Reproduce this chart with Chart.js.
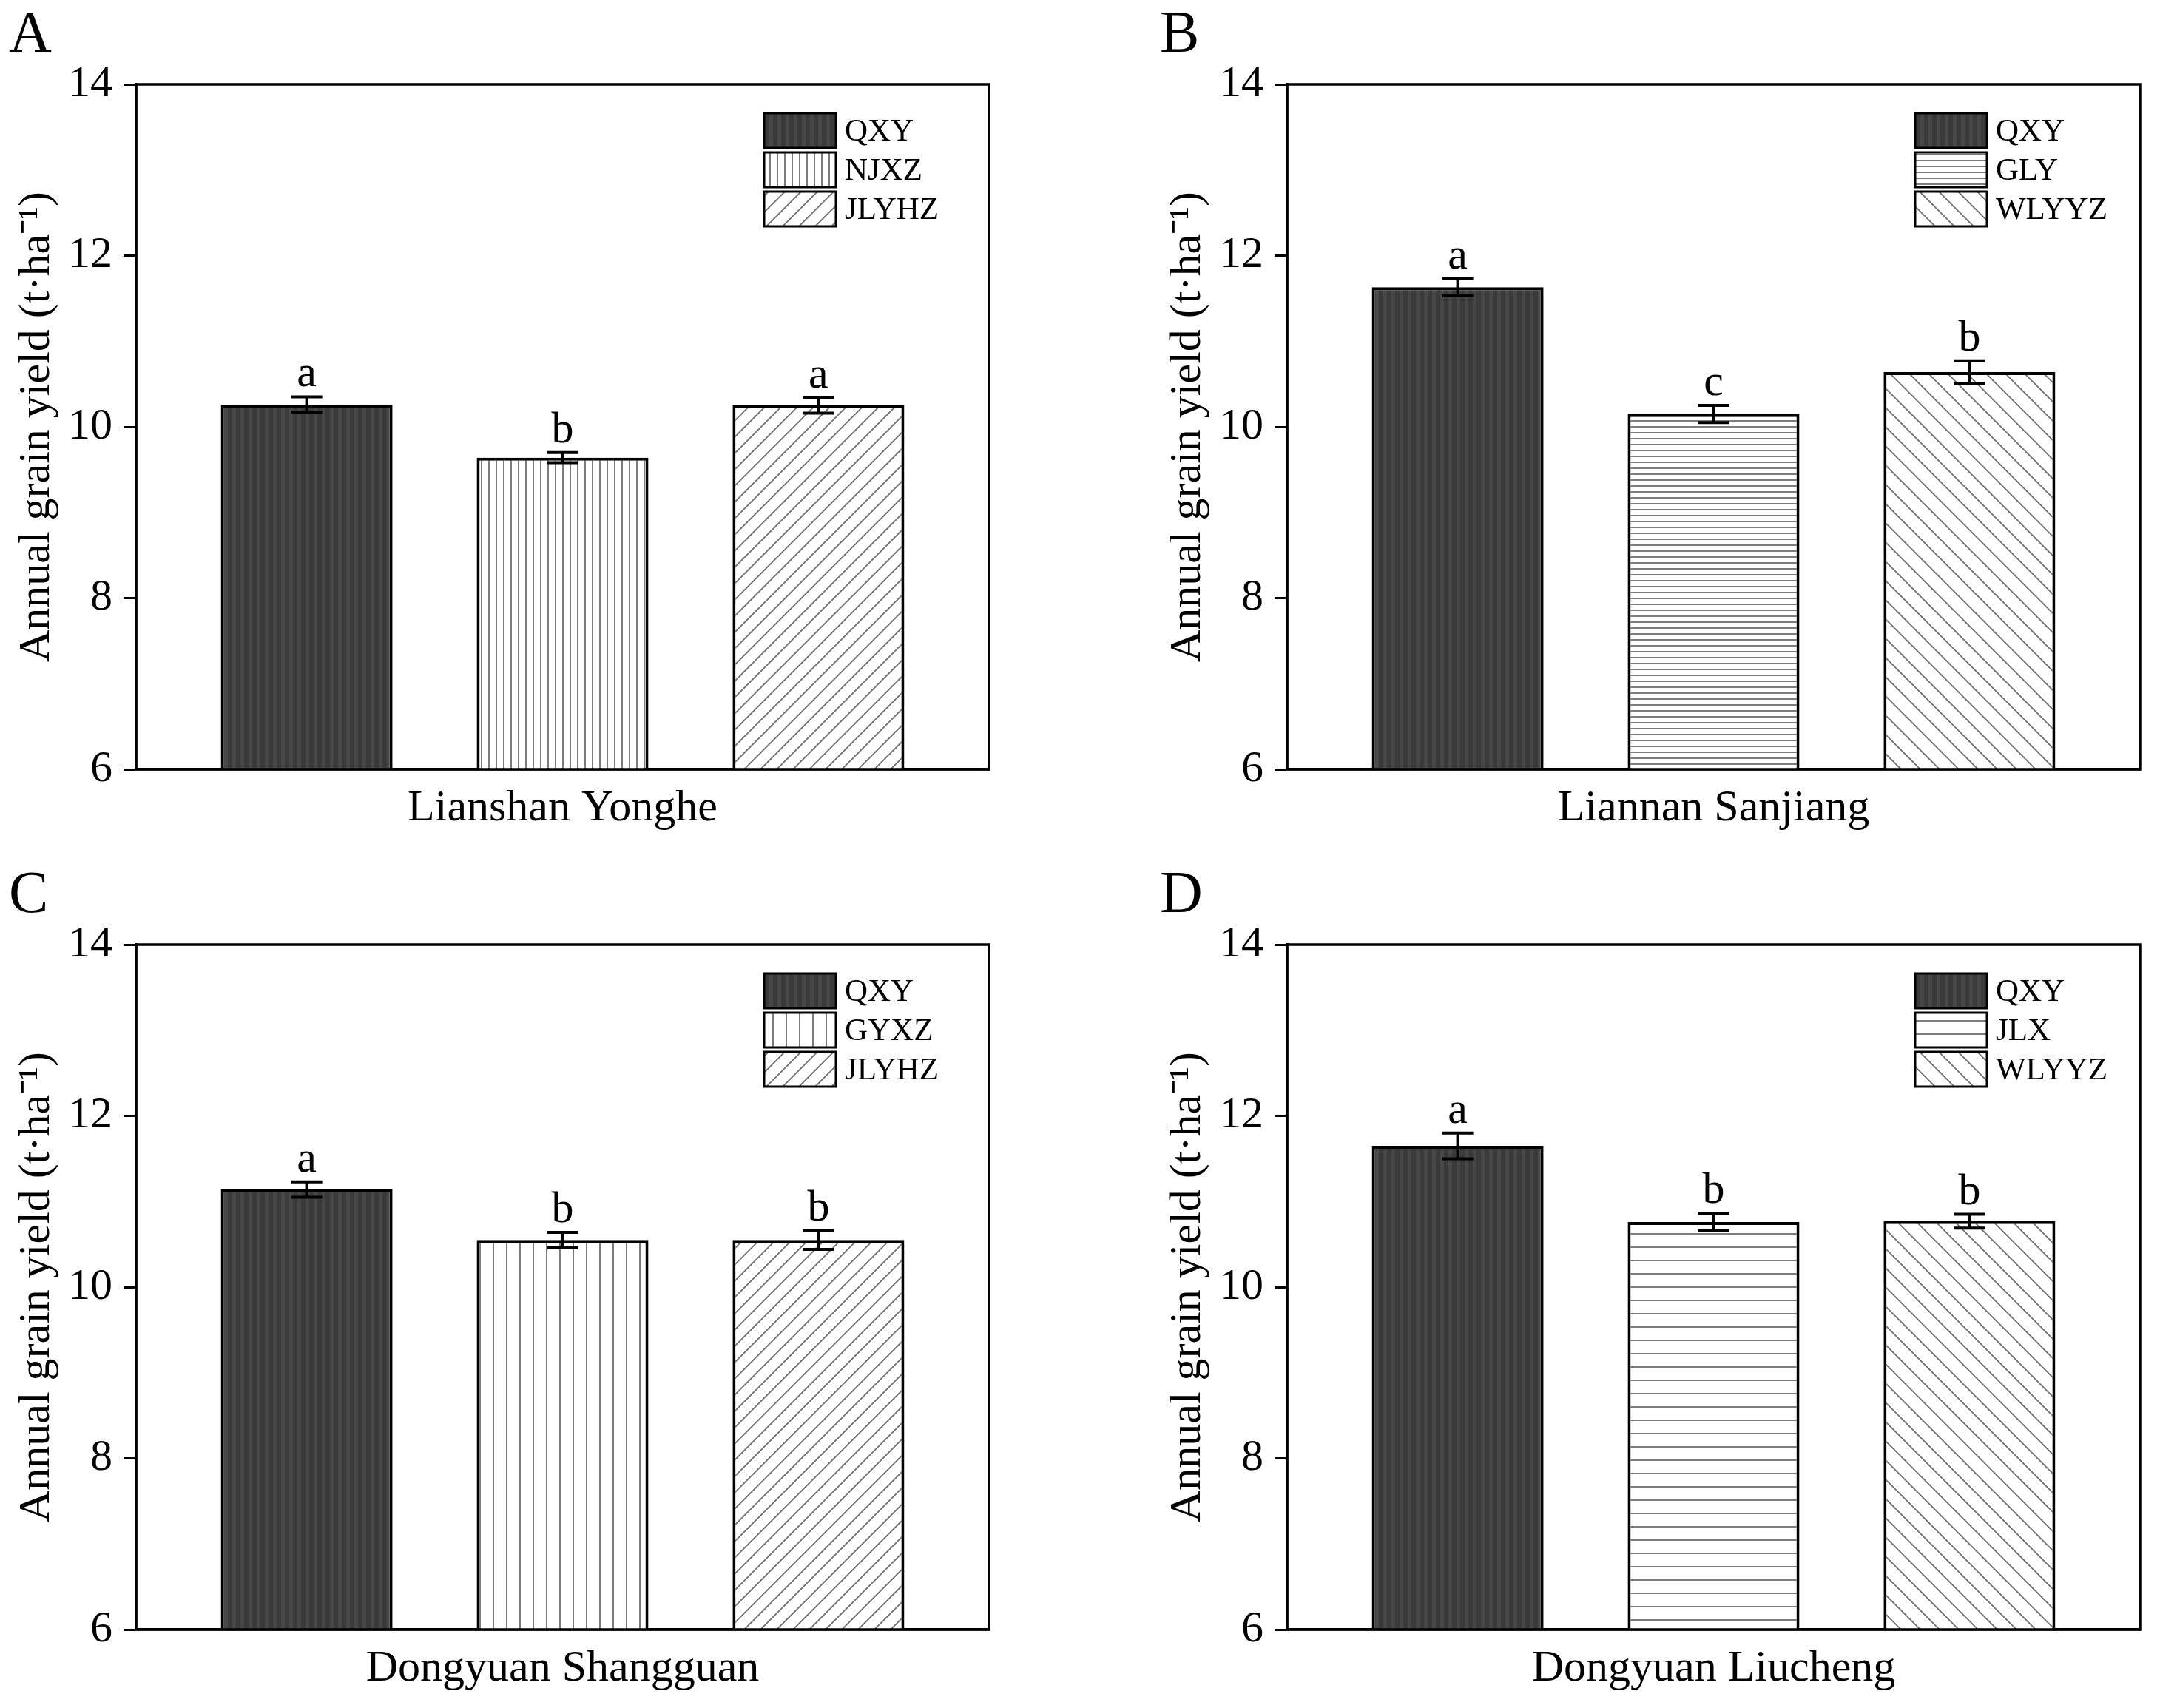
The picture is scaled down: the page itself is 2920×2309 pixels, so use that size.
<!DOCTYPE html>
<html lang="en">
<head>
<meta charset="UTF-8">
<title>Annual grain yield</title>
<script src="https://cdn.jsdelivr.net/npm/chart.js"></script>
<style>
  body { margin: 0; background: #fff; }
  #wrap { position: relative; width: 2920px; height: 2309px; overflow: hidden; background: #fff; }
  #wrap canvas { position: absolute; }
</style>
</head>
<body>
<div id="wrap">
  <canvas id="chart0" width="1364" height="1146" style="left:0px;top:0px"></canvas>
  <canvas id="chart1" width="1364" height="1146" style="left:1556px;top:0px"></canvas>
  <canvas id="chart2" width="1364" height="1146" style="left:0px;top:1163px"></canvas>
  <canvas id="chart3" width="1364" height="1146" style="left:1556px;top:1163px"></canvas>
</div>
<script>
// data
const panelLetters = ['A', 'B', 'C', 'D'];
const siteNames = ['Lianshan Yonghe', 'Liannan Sanjiang', 'Dongyuan Shangguan', 'Dongyuan Liucheng'];
const varietyNames = [
  ['QXY', 'NJXZ', 'JLYHZ'],
  ['QXY', 'GLY', 'WLYYZ'],
  ['QXY', 'GYXZ', 'JLYHZ'],
  ['QXY', 'JLX', 'WLYYZ']
];
const meanYield = [
  [10.26, 9.64, 10.25],
  [11.63, 10.15, 10.64],
  [11.14, 10.55, 10.55],
  [11.65, 10.76, 10.77]
];
const yieldError = [
  [0.09, 0.06, 0.09],
  [0.10, 0.10, 0.13],
  [0.09, 0.09, 0.11],
  [0.15, 0.10, 0.08]
];
const sigLetters = [
  ['a', 'b', 'a'],
  ['a', 'c', 'b'],
  ['a', 'b', 'b'],
  ['a', 'b', 'b']
];
const yMin = 6, yMax = 14, yStep = 2;
const yTitle = 'Annual grain yield (t\u00b7ha\u207b\u00b9)';

// fill style of each bar (kind, line spacing)
const fillStyles = [
  [['dark', 11], ['vertical', 10], ['slash', 22]],
  [['dark', 11], ['horizontal', 8.4], ['backslash', 26]],
  [['dark', 11], ['vertical', 18.4], ['slash', 22]],
  [['dark', 11], ['horizontal', 18.3], ['backslash', 26]]
];

const FONT = "'Liberation Serif', 'Times New Roman', serif";

function makePattern(kind, step) {
  const c = document.createElement('canvas');
  const s = Math.round(step * 10) / 10;
  c.width = Math.max(2, Math.round(s));
  c.height = Math.max(2, Math.round(s));
  const w = c.width, h = c.height;
  const g = c.getContext('2d');
  if (kind === 'dark') {
    g.fillStyle = '#474747';
    g.fillRect(0, 0, w, h);
    g.fillStyle = '#3a3a3a';
    g.fillRect(0, 0, Math.round(w / 2), h);
    return g.createPattern(c, 'repeat');
  }
  g.fillStyle = '#fff';
  g.fillRect(0, 0, w, h);
  g.strokeStyle = '#6e6e6e';
  g.lineWidth = 1.8;
  g.beginPath();
  if (kind === 'vertical') {
    g.moveTo(1, 0); g.lineTo(1, h);
  } else if (kind === 'horizontal') {
    g.moveTo(0, 1); g.lineTo(w, 1);
  } else if (kind === 'slash') {
    g.moveTo(0, h); g.lineTo(w, 0);
    g.moveTo(-2, 2); g.lineTo(2, -2);
    g.moveTo(w - 2, h + 2); g.lineTo(w + 2, h - 2);
  } else if (kind === 'backslash') {
    g.moveTo(0, 0); g.lineTo(w, h);
    g.moveTo(-2, h - 2); g.lineTo(2, h + 2);
    g.moveTo(w - 2, -2); g.lineTo(w + 2, 2);
  }
  g.stroke();
  return g.createPattern(c, 'repeat');
}

// error bars, letters, frame, legend and panel letter
const panelExtras = {
  id: 'panelExtras',
  afterDatasetsDraw(chart, args, opts) {
    const p = opts.panel;
    const ctx = chart.ctx;
    const y = chart.scales.y;
    ctx.save();
    ctx.strokeStyle = '#000';
    ctx.lineWidth = 4;
    chart.data.datasets.forEach((ds, i) => {
      const bar = chart.getDatasetMeta(i).data[0];
      const m = meanYield[p][i], e = yieldError[p][i];
      const yTop = y.getPixelForValue(m + e);
      const yBot = y.getPixelForValue(m - e);
      const cap = 21;
      ctx.beginPath();
      ctx.moveTo(bar.x, yTop); ctx.lineTo(bar.x, yBot);
      ctx.moveTo(bar.x - cap, yTop); ctx.lineTo(bar.x + cap, yTop);
      ctx.moveTo(bar.x - cap, yBot); ctx.lineTo(bar.x + cap, yBot);
      ctx.stroke();
      ctx.fillStyle = '#000';
      ctx.font = '60px ' + FONT;
      ctx.textAlign = 'center';
      ctx.textBaseline = 'alphabetic';
      ctx.fillText(sigLetters[p][i], bar.x, yTop - 14);
    });
    ctx.restore();
  },
  afterDraw(chart, args, opts) {
    const p = opts.panel;
    const ctx = chart.ctx;
    const a = chart.chartArea;
    ctx.save();
    ctx.strokeStyle = '#000';
    ctx.lineWidth = 3.5;
    ctx.strokeRect(a.left, a.top, a.right - a.left, a.bottom - a.top);

    // legend inside the plot, top right
    const bx = a.right - 304, by0 = a.top + 39, bw = 97, bh = 47, step = 53;
    chart.data.datasets.forEach((ds, i) => {
      const by = by0 + i * step;
      ctx.fillStyle = ds.backgroundColor;
      ctx.fillRect(bx, by, bw, bh);
      ctx.lineWidth = 3;
      ctx.strokeRect(bx, by, bw, bh);
      ctx.fillStyle = '#000';
      ctx.font = '43px ' + FONT;
      ctx.textAlign = 'left';
      ctx.textBaseline = 'middle';
      ctx.fillText(ds.label, bx + bw + 12, by + bh / 2 + 2);
    });

    ctx.font = '80px ' + FONT;
    ctx.textAlign = 'left';
    ctx.textBaseline = 'alphabetic';
    ctx.fillStyle = '#000';
    ctx.fillText(panelLetters[p], 12, 70);
    ctx.restore();
  }
};

const charts = [];
for (let p = 0; p < 4; p++) {
  const datasets = varietyNames[p].map((name, i) => ({
    label: name,
    data: [meanYield[p][i]],
    backgroundColor: makePattern(fillStyles[p][i][0], fillStyles[p][i][1]),
    borderColor: '#000',
    borderWidth: 4,
    borderSkipped: false,
    categoryPercentage: 0.9,
    barPercentage: 0.671
  }));
  charts.push(new Chart(document.getElementById('chart' + p).getContext('2d'), {
    type: 'bar',
    data: { labels: [siteNames[p]], datasets: datasets },
    plugins: [panelExtras],
    options: {
      responsive: false,
      animation: false,
      devicePixelRatio: 1,
      layout: { padding: { top: 114, right: 27, left: 0, bottom: 0 } },
      plugins: {
        legend: { display: false },
        tooltip: { enabled: false },
        panelExtras: { panel: p }
      },
      scales: {
        x: {
          grid: { display: false, drawTicks: false },
          border: { display: true, color: '#000', width: 3.5 },
          ticks: { color: '#000', padding: 17, font: { family: FONT, size: 60 } },
          afterFit: s => { s.height = 106; }
        },
        y: {
          min: yMin,
          max: yMax,
          ticks: { stepSize: yStep, color: '#000', padding: 15, font: { family: FONT, size: 60 } },
          grid: { drawOnChartArea: false, drawTicks: true, tickLength: 17, tickWidth: 3, color: '#000' },
          border: { display: true, color: '#000', width: 3.5 },
          title: { display: true, text: yTitle, color: '#000', padding: { top: 14, bottom: 0 }, font: { family: FONT, size: 60 } },
          afterFit: s => { s.width = 184; }
        }
      }
    }
  }));
}
</script>
</body>
</html>
